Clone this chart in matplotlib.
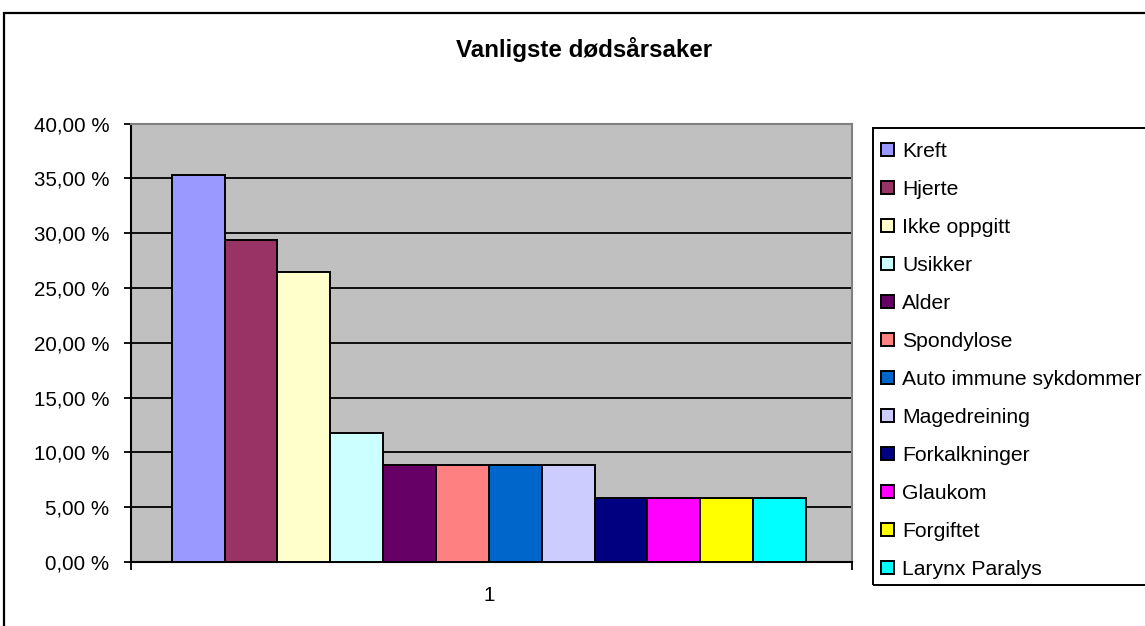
import matplotlib
matplotlib.use("Agg")
import matplotlib.pyplot as plt
from matplotlib.patches import Rectangle
from matplotlib.ticker import FixedLocator, FuncFormatter

# ---- data ----
causes = ["Kreft", "Hjerte", "Ikke oppgitt", "Usikker", "Alder", "Spondylose",
          "Auto immune sykdommer", "Magedreining", "Forkalkninger", "Glaukom",
          "Forgiftet", "Larynx Paralys"]
percent = [35.29, 29.41, 26.47, 11.76, 8.82, 8.82, 8.82, 8.82, 5.88, 5.88, 5.88, 5.88]
colors = ["#9999FF", "#993366", "#FFFFCC", "#CCFFFF", "#660066", "#FF8080",
          "#0066CC", "#CCCCFF", "#000080", "#FF00FF", "#FFFF00", "#00FFFF"]
y_ticks = [0, 5, 10, 15, 20, 25, 30, 35, 40]
category_label = "1"
title = "Vanligste dødsårsaker"

plt.rcParams['font.family'] = ['Liberation Sans', 'DejaVu Sans']

W, H = 1145, 626
fig = plt.figure(figsize=(W / 100, H / 100), dpi=100)

def fx(px):
    return px / W

def fy(py):
    return 1 - py / H

# outer chart frame (right/bottom edges cut off like the reference)
fig.patches.append(Rectangle((fx(4), fy(H + 20)), fx(W + 20), fy(13) - fy(H + 20),
                             transform=fig.transFigure, fill=False,
                             edgecolor="black", linewidth=1.6))

left, right, top, bottom = 131, 852, 123.5, 562
ax = fig.add_axes([fx(left), fy(bottom), fx(right - left), (bottom - top) / H])
ax.set_facecolor("#C0C0C0")

for i, (name, val, col) in enumerate(zip(causes, percent, colors)):
    ax.bar(i, val, width=1.0, color=col, edgecolor="black", linewidth=1.4,
           label=name, zorder=3)

ax.set_xlim(-1.27, len(causes) - 0.5 + 0.87)
ax.set_ylim(0, 40)
ax.yaxis.set_major_locator(FixedLocator(y_ticks))
ax.yaxis.set_major_formatter(FuncFormatter(lambda v, p: f"{v:.2f}".replace(".", ",") + " %"))
ax.grid(axis="y", color="black", linewidth=1.3, zorder=1)
ax.set_axisbelow(True)

xl = ax.get_xlim()
ax.set_xticks([(len(causes) - 1) / 2])
ax.set_xticklabels([category_label])
ax.set_xticks([xl[0], xl[1]], minor=True)
ax.tick_params(axis="x", which="major", length=0, pad=17, labelsize=14.8)
ax.tick_params(axis="x", which="minor", length=6, width=1.3, direction="out")
ax.tick_params(axis="y", length=5, width=1.3, direction="out", pad=10.5, labelsize=14.8)

for s in ["left", "bottom"]:
    ax.spines[s].set_color("black")
    ax.spines[s].set_linewidth(1.5)
for s in ["top", "right"]:
    ax.spines[s].set_color("#808080")
    ax.spines[s].set_linewidth(1.5)

# title
fig.text(fx(584), fy(50), title, ha="center", va="center",
         fontsize=17.4, fontweight="bold")

# legend frame
fig.patches.append(Rectangle((fx(873), fy(585)), fx(W + 20 - 873), fy(128) - fy(585),
                             transform=fig.transFigure, fill=False,
                             edgecolor="black", linewidth=1.4, zorder=5))
handles, labels = ax.get_legend_handles_labels()
leg = fig.legend(handles, labels, loc="upper left",
                 bbox_to_anchor=(fx(881), fy(142)), bbox_transform=fig.transFigure,
                 frameon=False, fontsize=15.2, handlelength=0.6, handleheight=0.6,
                 handletextpad=0.4, labelspacing=0.90, borderpad=0, borderaxespad=0)
for h in leg.legend_handles:
    h.set_linewidth(1.4)

fig.savefig("out.png", dpi=100)
